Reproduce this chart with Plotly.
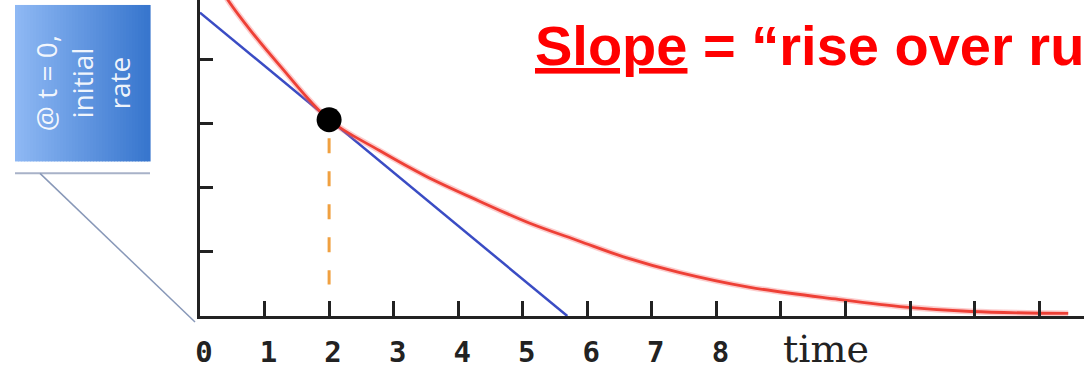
import plotly.graph_objects as go

# ---- data ----
red_t = [0.25, 0.43, 0.8, 1.24, 2.0, 2.78, 3.5, 4.33, 5.1, 5.87, 6.6, 7.42, 8.5, 9.89, 10.93, 11.95, 13.45]
red_v = [5.25, 4.93, 4.43, 3.90, 3.06, 2.58, 2.18, 1.79, 1.45, 1.17, 0.91, 0.68, 0.45, 0.26, 0.14, 0.07, 0.04]
blue_t = [0.0, 5.69]
blue_v = [4.73, 0.0]
point_t = [2.0]
point_v = [3.06]
dash_t = [2.0, 2.0]
dash_v = [2.77, 0.49]
tick_vals = list(range(0, 14))
tick_text = ["0", "1", "2", "3", "4", "5", "6", "7", "8", "", "", "", "", ""]
ytick_vals = [0, 1, 2, 3, 4]

W, H = 1084, 369
ML, MR, MT, MB = 200, 0, 0, 50
PW, PH = W - ML - MR, H - MT - MB


def px(x):
    return (x - ML) / PW


def py(y):
    return (H - MB - y) / PH


fig = go.Figure()
fig.add_trace(go.Scatter(x=blue_t, y=blue_v, mode="lines",
                         line=dict(color="#3a4cc4", width=2.5), showlegend=False))
fig.add_trace(go.Scatter(x=red_t, y=red_v, mode="lines",
                         line=dict(color="rgba(245,110,110,0.35)", width=6, shape="spline", smoothing=1.0),
                         showlegend=False, hoverinfo="skip"))
fig.add_trace(go.Scatter(x=red_t, y=red_v, mode="lines",
                         line=dict(color="#ee4036", width=2.8, shape="spline", smoothing=1.0),
                         showlegend=False))
fig.add_trace(go.Scatter(x=dash_t, y=dash_v, mode="lines",
                         line=dict(color="#f0a040", width=3, dash="15px,18px"), showlegend=False))
fig.add_trace(go.Scatter(x=point_t, y=point_v, mode="markers",
                         marker=dict(color="black", size=25), showlegend=False))

shapes = []
# gradient box
x0, x1, y0, y1 = 15, 150, 5, 163
n = 45
c0 = (142, 184, 244)
c1 = (56, 118, 206)
for i in range(n):
    f = i / (n - 1)
    col = "rgb(%d,%d,%d)" % tuple(int(c0[k] + (c1[k] - c0[k]) * f) for k in range(3))
    xa = x0 + (x1 - x0) * i / n
    xb = x0 + (x1 - x0) * (i + 1) / n + 0.6
    shapes.append(dict(type="rect", xref="paper", yref="paper",
                       x0=px(xa), x1=px(xb), y0=py(y1), y1=py(y0),
                       line=dict(width=0), fillcolor=col, layer="above"))
shapes.append(dict(type="line", xref="paper", yref="paper",
                   x0=px(15), x1=px(150), y0=py(175), y1=py(175),
                   line=dict(color="#a8b2c8", width=2)))
shapes.append(dict(type="line", xref="paper", yref="paper",
                   x0=px(40), x1=px(195), y0=py(175), y1=py(325),
                   line=dict(color="#8898b8", width=1.5)))

annotations = [
    dict(xref="paper", yref="paper", x=px(82), y=py(84), text="@ t = 0,<br>initial<br>rate",
         textangle=-90, showarrow=False, xanchor="center", yanchor="middle",
         font=dict(family="Open Sans", size=28, color="rgba(255,255,255,0.92)"), align="center"),
    dict(xref="paper", yref="paper", x=px(533), y=py(46),
         text="<b><u>Slope</u> = \u201crise over run\u201d</b>", showarrow=False,
         xanchor="left", yanchor="middle",
         font=dict(family="Liberation Sans", size=56, color="#ff0000")),
    dict(xref="x", yref="paper", x=9, y=py(352), text="time", showarrow=False,
         xanchor="left", yanchor="middle",
         font=dict(family="DejaVu Serif", size=38, color="#222222")),
]

fig.update_layout(
    width=W, height=H,
    margin=dict(l=ML, r=MR, t=MT, b=MB, pad=0),
    paper_bgcolor="white", plot_bgcolor="white",
    shapes=shapes, annotations=annotations,
    xaxis=dict(range=[0, PW / 64.55], tickvals=tick_vals, ticktext=tick_text,
               ticks="inside", ticklen=15, tickwidth=3, tickcolor="#222222",
               showline=True, linecolor="#222222", linewidth=3,
               showgrid=False, zeroline=False, ticklabelshift=4, ticklabelstandoff=8,
               tickfont=dict(family="DejaVu Sans Mono", size=29, color="#222222", weight="bold")),
    yaxis=dict(range=[0, PH / 64.75], tickvals=ytick_vals, showticklabels=False,
               ticks="inside", ticklen=13, tickwidth=3, tickcolor="#222222",
               showline=True, linecolor="#222222", linewidth=3,
               showgrid=False, zeroline=False),
)

fig.write_html("out.html", config={"displayModeBar": False},
               post_script="document.body.style.margin='0';document.body.style.overflow='hidden';")
